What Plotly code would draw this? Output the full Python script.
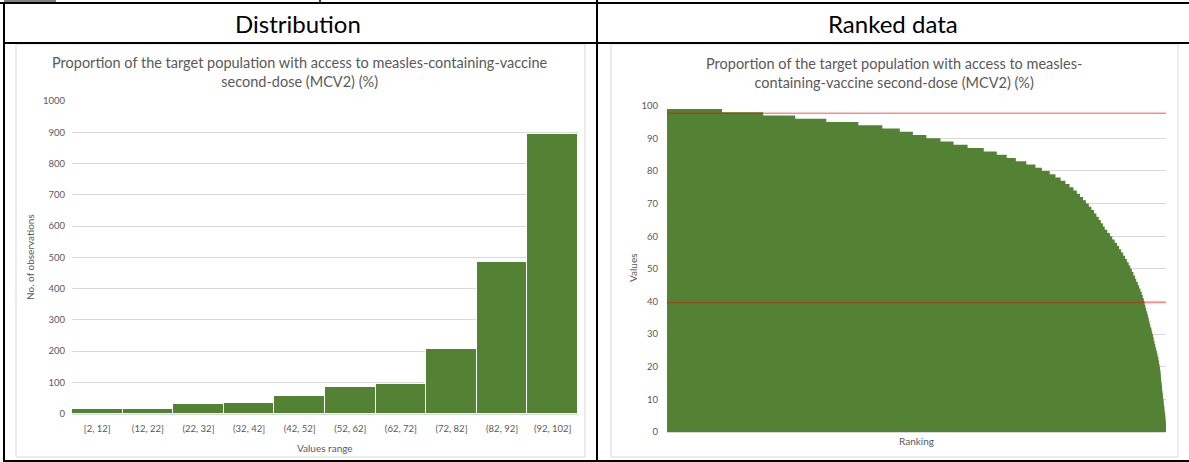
import numpy as np
import plotly.graph_objects as go

# ---------------- data ----------------
hist_labels = ["[2, 12]", "(12, 22]", "(22, 32]", "(32, 42]", "(42, 52]",
               "(52, 62]", "(62, 72]", "(72, 82]", "(82, 92]", "(92, 102]"]
hist_counts = [15, 15, 31, 33, 57, 85, 95, 206, 485, 893]

# ranked data stored as value levels and how many observations sit on each level
rank_levels = [99, 98, 97, 96, 95, 94, 93,
               92, 91, 90, 89, 88, 87, 86, 85, 84, 83,
               82, 81, 80, 79, 78, 77, 76, 75, 74, 73,
               72, 71, 70, 69, 68, 67, 66, 65, 64, 63,
               62, 61, 60, 59, 58, 57, 56, 55, 54, 53,
               52, 51, 50, 49, 48, 47, 46, 45, 44, 43,
               42, 41, 40, 39, 38, 37, 36, 35, 34, 33,
               32, 31, 30, 29, 28, 27, 26, 25, 24, 23,
               22, 21, 20, 19, 18, 17, 16, 15, 14, 13,
               12, 11, 10, 9, 8, 7, 6, 5, 4, 3, 2]
rank_counts = [211, 158, 123, 119, 123, 92, 67,
               50, 52, 54, 50, 54, 62, 50, 38, 35, 40,
               35, 25, 30, 22, 20, 18, 16, 15, 13, 12,
               12, 11, 11, 10, 10, 9, 9, 8, 8, 7,
               10, 10, 9, 9, 9, 8, 8, 8, 7, 7,
               7, 6, 6, 6, 6, 5, 6, 5, 5, 5,
               4, 4, 3, 3, 3, 4, 3, 3, 3, 3,
               4, 3, 3, 3, 3, 3, 3, 3, 3, 3,
               2, 2, 2, 2, 1, 1, 1, 2, 1, 1,
               2, 1, 2, 1, 2, 1, 2, 1, 1, 1, 1]
upper_ref = 97.7
lower_ref = 39.7

ranked = np.repeat(rank_levels, rank_counts)
ranks = np.arange(len(ranked))

# ---------------- styling helpers ----------------
W, H = 1189, 462
FONT = "Lato"
GREEN = "#548235"
GREY_TXT = "#595959"
GRID = "#d9d9d9"


def px(x):
    return x / W


def py(y):
    return (H - y) / H


fig = go.Figure()

# Left: histogram
fig.add_trace(go.Bar(
    x=hist_labels, y=hist_counts, marker=dict(color=GREEN, line=dict(color="white", width=1)),
    xaxis="x", yaxis="y", showlegend=False, hoverinfo="skip"))

# Right: ranked data
fig.add_trace(go.Scatter(
    x=ranks, y=ranked, mode="lines", line=dict(width=0, shape="hv", color=GREEN),
    fill="tozeroy", fillcolor=GREEN, xaxis="x2", yaxis="y2", showlegend=False,
    hoverinfo="skip"))
for ref in (upper_ref, lower_ref):
    fig.add_trace(go.Scatter(
        x=[ranks[0], ranks[-1]], y=[ref, ref], mode="lines",
        line=dict(color="rgba(255,0,0,0.45)", width=1.5),
        xaxis="x2", yaxis="y2", showlegend=False, hoverinfo="skip"))

tickfont = dict(family=FONT, size=9.5, color=GREY_TXT)

fig.update_layout(
    width=W, height=H, autosize=False,
    margin=dict(l=0, r=0, t=0, b=0, pad=0),
    paper_bgcolor="white", plot_bgcolor="white",
    bargap=0,
    xaxis=dict(domain=[px(72), px(578)], type="category", range=[-0.5, 9.5],
               showline=True, linecolor=GRID, linewidth=1, ticks="",
               showgrid=False, tickfont=tickfont, ticklabelstandoff=6,
               anchor="y", fixedrange=True, automargin=False),
    yaxis=dict(domain=[py(413.7), py(101)], range=[0, 1000], dtick=100,
               showgrid=True, gridcolor=GRID, gridwidth=1, zeroline=False,
               showline=False, ticks="", tickfont=tickfont, ticklabelstandoff=6,
               anchor="x", fixedrange=True, automargin=False),
    xaxis2=dict(domain=[px(667), px(1166)], range=[0, len(ranked) - 1],
                showticklabels=False, showgrid=False, zeroline=False,
                showline=True, linecolor=GRID, ticks="", anchor="y2", fixedrange=True,
                automargin=False),
    yaxis2=dict(domain=[py(432), py(105.7)], range=[0, 100], dtick=10,
                showgrid=True, gridcolor=GRID, gridwidth=1, zeroline=False,
                showline=False, ticks="", tickfont=tickfont, ticklabelstandoff=8,
                anchor="x2", fixedrange=True, automargin=False),
)

# ---------------- table frame (shapes) ----------------
shapes = []


def line(x0, y0, x1, y1, color="black", width=2):
    shapes.append(dict(type="line", xref="paper", yref="paper",
                       x0=px(x0), y0=py(y0), x1=px(x1), y1=py(y1),
                       line=dict(color=color, width=width), layer="above"))


# chart panels (light grey border)
for x0, x1 in ((16, 585), (611, 1178)):
    shapes.append(dict(type="rect", xref="paper", yref="paper",
                       x0=px(x0), y0=py(457), x1=px(x1), y1=py(44),
                       line=dict(color=GRID, width=1), fillcolor="rgba(0,0,0,0)",
                       layer="below"))

shapes.append(dict(type="rect", xref="paper", yref="paper",
                   x0=px(4), y0=py(0), x1=px(56), y1=py(2),
                   line=dict(width=0), fillcolor="#7f7f7f", layer="above"))
line(0, 3, 1189, 3)
line(320, 0, 320, 3, width=1.5)
line(4, 3, 4, 462)
line(597, 0, 597, 462)
line(4, 43, 1189, 43)
line(4, 461, 1189, 461)

fig.update_layout(shapes=shapes)

# ---------------- text ----------------
ann = []


def text(x, y, s, size, color=GREY_TXT, angle=0):
    ann.append(dict(x=px(x), y=py(y), xref="paper", yref="paper", text=s,
                    showarrow=False, textangle=angle, xanchor="center", yanchor="middle",
                    font=dict(family=FONT, size=size, color=color)))


text(298, 23, "Distribution", 24, color="black")
text(893, 23, "Ranked data", 24, color="black")

text(300, 72, "Proportion of the target population with access to measles-containing-vaccine<br>second-dose (MCV2) (%)", 14.5)
text(894, 73, "Proportion of the target population with access to measles-<br>containing-vaccine second-dose (MCV2) (%)", 14.5)

text(325, 448, "Values range", 10)
text(30, 257, "No. of observations", 10, angle=-90)
text(916, 441, "Ranking", 10)
text(633, 268, "Values", 10, angle=-90)

fig.update_layout(annotations=ann)

fig.write_html("out.html", config={"displayModeBar": False},
               post_script="document.body.style.margin='0';document.body.style.overflow='hidden';")
